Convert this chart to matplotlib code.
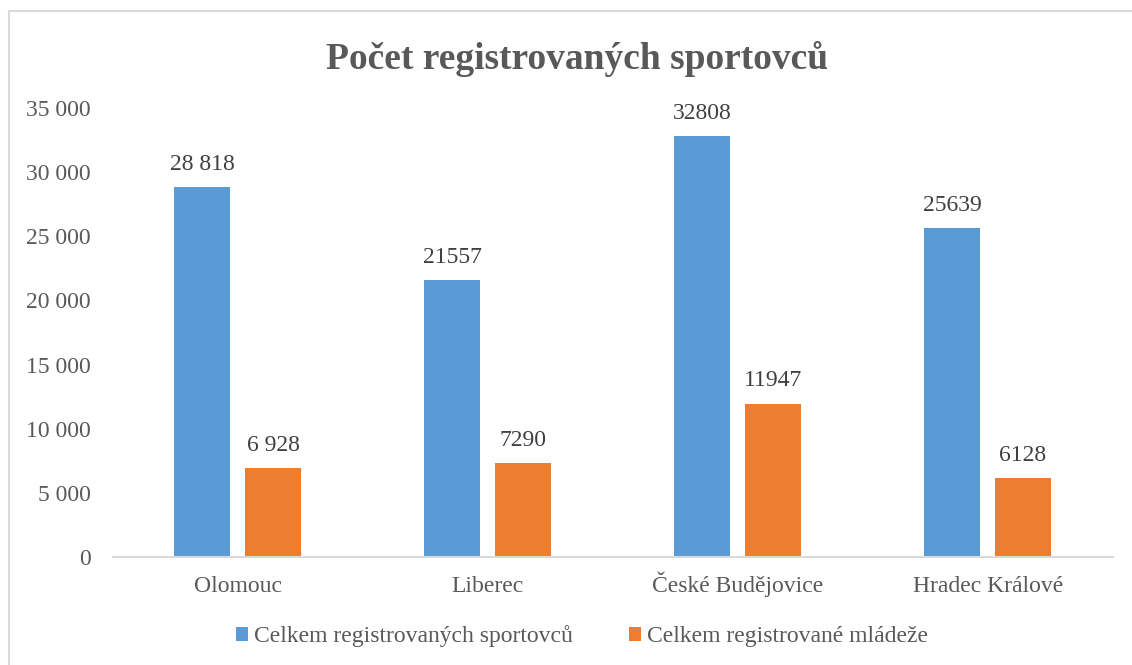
import matplotlib.pyplot as plt
import numpy as np
from matplotlib.patches import Rectangle
from matplotlib.ticker import FuncFormatter

plt.rcParams['font.family'] = ['Liberation Serif', 'DejaVu Serif']

mesta = ['Olomouc', 'Liberec', 'České Budějovice', 'Hradec Králové']
celkem = [28818, 21557, 32808, 25639]
mladez = [6928, 7290, 11947, 6128]
popisky_celkem = ['28 818', '21557', '32808', '25639']
popisky_mladez = ['6 928', '7290', '11947', '6128']
nazvy = ['Celkem registrovaných sportovců', 'Celkem registrované mládeže']

modra = '#5B9BD5'
oranzova = '#ED7D31'
seda = '#595959'

fig = plt.figure(figsize=(11.32, 6.65), dpi=100)
ax = fig.add_axes([0.0998, 0.1624, 0.8832, 0.6752])

# ramecek grafu (jen horni a leva hrana je videt)
fig.patches.append(Rectangle((9 / 1132, -0.5), 2.0, 1.5 - 11 / 665,
                             transform=fig.transFigure, fill=False,
                             edgecolor='#d9d9d9', linewidth=1.5))

x = np.arange(len(mesta))
w = 0.224
b1 = ax.bar(x - 0.143, celkem, w, color=modra, label=nazvy[0])
b2 = ax.bar(x + 0.141, mladez, w, color=oranzova, label=nazvy[1])

for rect, txt in zip(b1, popisky_celkem):
    ax.annotate(txt, (rect.get_x() + rect.get_width() / 2, rect.get_height()),
                xytext=(0, 9), textcoords='offset points', ha='center',
                va='bottom', fontsize=17, color='#404040')
for rect, txt in zip(b2, popisky_mladez):
    ax.annotate(txt, (rect.get_x() + rect.get_width() / 2, rect.get_height()),
                xytext=(0, 9), textcoords='offset points', ha='center',
                va='bottom', fontsize=17, color='#404040')

ax.set_xlim(-0.5, 3.5)
ax.set_ylim(0, 35000)
ax.set_yticks(range(0, 35001, 5000))
ax.yaxis.set_major_formatter(FuncFormatter(lambda v, p: f'{int(v):,}'.replace(',', ' ')))
ax.set_xticks(x)
ax.set_xticklabels(mesta, va='baseline')
ax.tick_params(axis='both', length=0, labelsize=17, colors=seda)
ax.tick_params(axis='y', pad=16)
ax.tick_params(axis='x', pad=25)
for s in ['top', 'right', 'left']:
    ax.spines[s].set_visible(False)
ax.spines['bottom'].set_color('#d9d9d9')
ax.spines['bottom'].set_linewidth(1.5)

fig.text(0.51, 0.912, 'Počet registrovaných sportovců', ha='center', va='center',
         fontsize=27, fontweight='bold', color=seda)

fig.legend(loc='center', bbox_to_anchor=(0.514, 0.043), ncol=2, frameon=False,
           fontsize=17, labelcolor=seda, handlelength=0.5, handleheight=0.55,
           handletextpad=0.25, columnspacing=2.4)

fig.savefig('out.png', dpi=100)
